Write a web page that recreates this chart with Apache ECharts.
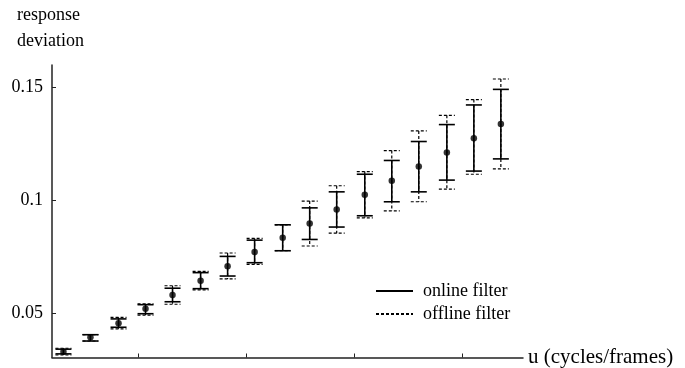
<!DOCTYPE html>
<html>
<head>
<meta charset="utf-8">
<script src="https://cdn.jsdelivr.net/npm/echarts@6/dist/echarts.min.js"></script>
<style>
  html, body { margin: 0; padding: 0; background: #fff; }
  #chart { width: 685px; height: 368px; }
</style>
</head>
<body>
<div id="chart"></div>
<script>
// u values of the 17 measured points (cycles/frame)
var uValues = [0.031, 0.056, 0.082, 0.107, 0.132, 0.158, 0.183, 0.208, 0.234,
               0.259, 0.284, 0.310, 0.335, 0.360, 0.386, 0.411, 0.436];
// mean response deviation
var meanDev = [0.0330, 0.0394, 0.0456, 0.0520, 0.0581, 0.0644, 0.0708, 0.0771, 0.0835,
               0.0898, 0.0960, 0.1025, 0.1087, 0.1150, 0.1212, 0.1276, 0.1339];
// online filter range (solid)
var onlineLow  = [0.0320, 0.0377, 0.0438, 0.0498, 0.0551, 0.0609, 0.0665, 0.0724, 0.0777,
                  0.0827, 0.0882, 0.0932, 0.0994, 0.1038, 0.1090, 0.1130, 0.1184];
var onlineHigh = [0.0341, 0.0405, 0.0475, 0.0538, 0.0611, 0.0680, 0.0752, 0.0824, 0.0892,
                  0.0967, 0.1038, 0.1116, 0.1177, 0.1261, 0.1336, 0.1423, 0.1492];
// offline filter range (dashed)
var offlineLow  = [0.0315, 0.0377, 0.0431, 0.0492, 0.0540, 0.0604, 0.0652, 0.0717, 0.0777,
                   0.0798, 0.0855, 0.0923, 0.0954, 0.0994, 0.1050, 0.1116, 0.1140];
var offlineHigh = [0.0345, 0.0405, 0.0482, 0.0542, 0.0622, 0.0686, 0.0767, 0.0832, 0.0892,
                   0.0997, 0.1065, 0.1128, 0.1221, 0.1308, 0.1377, 0.1447, 0.1538];
var xTicks = [0.1, 0.2, 0.3, 0.4];
var yTicks = [0.05, 0.1, 0.15];

var FONT = '"Liberation Serif", "Times New Roman", serif';
var chart = echarts.init(document.getElementById('chart'));

function barData(lo, hi) {
  var out = [];
  for (var i = 0; i < uValues.length; i++) {
    out.push([uValues[i], lo[i], hi[i]]);
  }
  return out;
}

function makeBars(dashed) {
  return function (params, api) {
    var x = api.value(0);
    var pLo = api.coord([x, api.value(1)]);
    var pHi = api.coord([x, api.value(2)]);
    var hw = 8;
    var st = {
      stroke: '#000',
      lineWidth: dashed ? 1.2 : 1.6,
      lineDash: dashed ? [3, 2] : null,
      fill: null
    };
    return {
      type: 'group',
      children: [
        { type: 'line', shape: { x1: pHi[0], y1: pHi[1], x2: pLo[0], y2: pLo[1] }, style: st },
        { type: 'line', shape: { x1: pHi[0] - hw, y1: pHi[1], x2: pHi[0] + hw, y2: pHi[1] }, style: st },
        { type: 'line', shape: { x1: pLo[0] - hw, y1: pLo[1], x2: pLo[0] + hw, y2: pLo[1] }, style: st }
      ]
    };
  };
}

var option = {
  animation: false,
  grid: { left: 52, right: 162, top: 65, bottom: 10, containLabel: false },
  graphic: [
    { type: 'text', left: 17, top: 6, style: { text: 'response', font: '18px ' + FONT, fill: '#000' } },
    { type: 'text', left: 17, top: 32, style: { text: 'deviation', font: '18px ' + FONT, fill: '#000' } }
  ],
  legend: {
    orient: 'vertical',
    left: 370,
    top: 277,
    itemWidth: 37,
    itemHeight: 14,
    itemGap: 5,
    selectedMode: false,
    itemStyle: { opacity: 0 },
    textStyle: { fontFamily: FONT, fontSize: 18, color: '#000', padding: [0, 0, 0, 5] },
    data: ['online filter', 'offline filter']
  },
  xAxis: {
    type: 'value',
    min: 0.0204,
    max: 0.4565,
    name: 'u (cycles/frames)',
    nameLocation: 'end',
    nameGap: 5,
    nameTextStyle: { fontFamily: FONT, fontSize: 21, color: '#000', verticalAlign: 'middle' },
    axisLine: { lineStyle: { color: '#222', width: 1.5 } },
    axisTick: { inside: true, length: 4, customValues: xTicks, lineStyle: { color: '#222' } },
    axisLabel: { show: false },
    splitLine: { show: false }
  },
  yAxis: {
    type: 'value',
    min: 0.0304,
    max: 0.16,
    axisLine: { show: true, lineStyle: { color: '#222', width: 1.5 } },
    axisTick: { show: true, inside: true, length: 4, customValues: yTicks, lineStyle: { color: '#222' } },
    axisLabel: { customValues: yTicks, margin: 9, fontFamily: FONT, fontSize: 18, color: '#000' },
    splitLine: { show: false }
  },
  series: [
    {
      name: 'offline bars',
      type: 'custom',
      renderItem: makeBars(true),
      encode: { x: 0, y: [1, 2] },
      data: barData(offlineLow, offlineHigh),
      z: 2
    },
    {
      name: 'online bars',
      type: 'custom',
      renderItem: makeBars(false),
      encode: { x: 0, y: [1, 2] },
      data: barData(onlineLow, onlineHigh),
      z: 3
    },
    {
      name: 'mean',
      type: 'scatter',
      symbol: 'circle',
      symbolSize: 6.5,
      itemStyle: { color: '#000' },
      data: uValues.map(function (u, i) { return [u, meanDev[i]]; }),
      z: 4
    },
    {
      name: 'online filter',
      type: 'line',
      symbol: 'none',
      lineStyle: { color: '#000', width: 1, type: 'solid' },
      itemStyle: { color: '#000' },
      data: []
    },
    {
      name: 'offline filter',
      type: 'line',
      symbol: 'none',
      lineStyle: { color: '#000', width: 1, type: [3, 2] },
      itemStyle: { color: '#000' },
      data: []
    }
  ]
};
chart.setOption(option);
</script>
</body>
</html>
